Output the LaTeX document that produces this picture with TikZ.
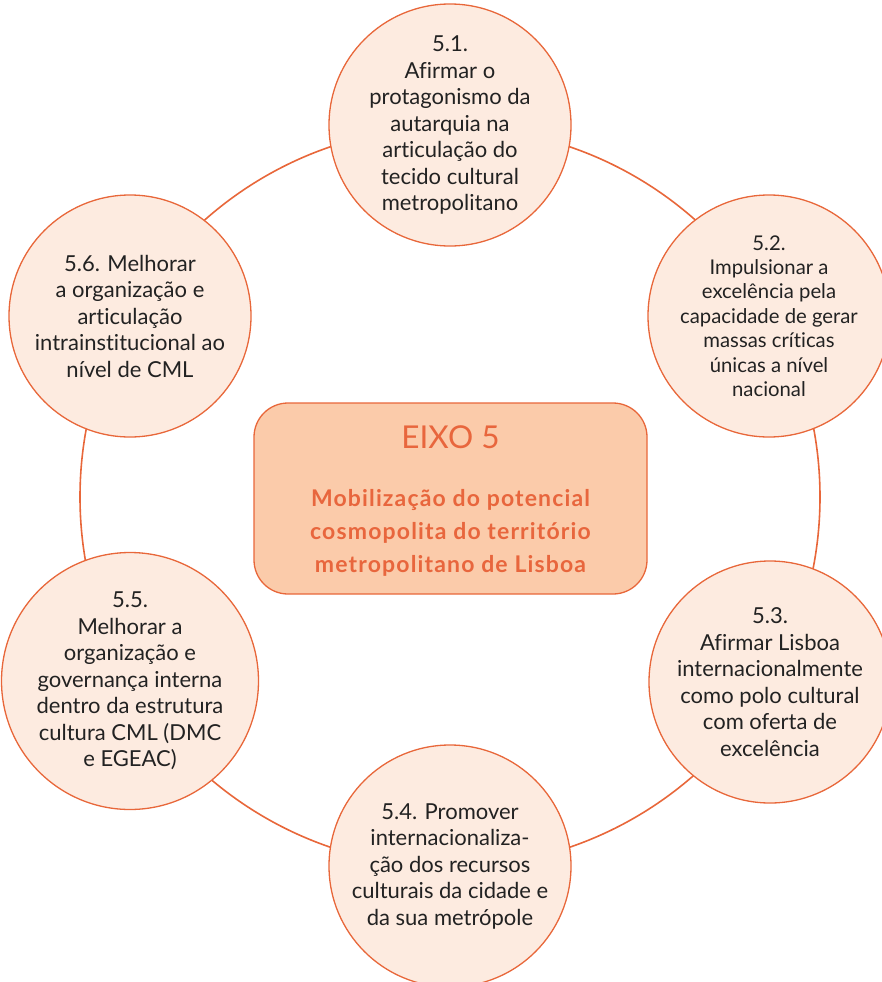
\documentclass[tikz,border=0pt]{standalone}
\usepackage{fontspec}
\setmainfont{Lato}[Ligatures={NoCommon}]
\definecolor{ring}{HTML}{E8673A}
\definecolor{cfill}{HTML}{FDEBE0}
\definecolor{bfill}{HTML}{FBCBAA}
\definecolor{otext}{HTML}{E8663D}
\definecolor{dtext}{HTML}{222222}
\begin{document}
\begin{tikzpicture}[x=1pt,y=-1pt,
  goal/.style={circle, draw=ring, line width=1.3pt, fill=cfill, minimum size=242pt, inner sep=0pt,
    align=center, text=dtext},
  big/.style={font=\fontsize{22}{26.5}\selectfont},
  small/.style={font=\fontsize{20.3}{24.4}\selectfont}]
\useasboundingbox (0,0) rectangle (882,982);
\node[circle, draw=ring, line width=1.6pt, minimum size=740pt, inner sep=0pt] (ringc) at (450,497) {};
\node[goal,big] (g1) at (450,125) {5.1.\\Afirmar o\\protagonismo da\\autarquia na\\articulação do\\tecido cultural\\metropolitano};
\node[goal,small] (g2) at (769,316) {5.2.\\Impulsionar a\\excelência pela\\capacidade de gerar\\massas críticas\\únicas a nível\\nacional};
\node[goal,big] (g3) at (770,682) {5.3.\\Afirmar Lisboa\\internacionalmente\\como polo cultural\\com oferta de\\excelência};
\node[goal,big] (g4) at (450,866) {5.4. Promover\\internacionaliza-\\ção dos recursos\\culturais da cidade e\\da sua metrópole};
\node[goal,big] (g5) at (130,681) {5.5.\\Melhorar a\\organização e\\governança interna\\dentro da estrutura\\cultura CML (DMC\\e EGEAC)};
\node[goal,big] (g6) at (130,316) {5.6. Melhorar\\a organização e\\articulação\\intrainstitucional ao\\nível de CML};
\node[draw=ring, line width=1.3pt, fill=bfill, rounded corners=34pt, minimum width=393pt, minimum height=191pt,
  inner sep=0pt] (axis) at (450.5,498.5) {};
\node[text=otext, font=\fontsize{31.5}{36}\selectfont] (title) at (450.5,437) {EIXO 5};
\node[text=otext, align=center, font=\bfseries\fontsize{23}{33}\selectfont\addfontfeature{LetterSpace=5}] (sub) at (450.5,533) {Mobilização do potencial\\cosmopolita do território\\metropolitano de Lisboa};
\end{tikzpicture}
\end{document}
